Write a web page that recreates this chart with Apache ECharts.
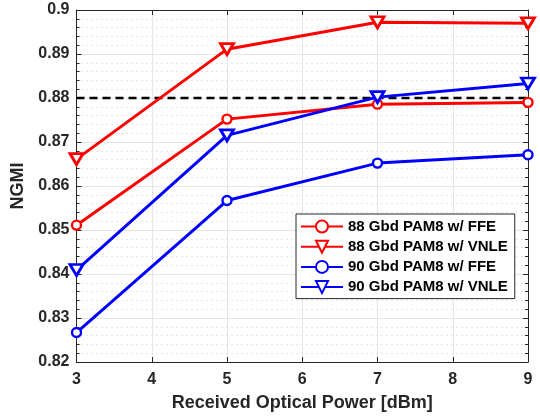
<!DOCTYPE html>
<html>
<head>
<meta charset="utf-8">
<script src="https://cdn.jsdelivr.net/npm/echarts@6/dist/echarts.min.js"></script>
<style>html,body{margin:0;padding:0;background:#fff}#c{width:540px;height:417px}</style>
</head>
<body>
<div id="c"></div>
<script>
var xValues = [3, 5, 7, 9];
var ffe88 = [0.8511, 0.8752, 0.8786, 0.8790];
var vnle88 = [0.8661, 0.8911, 0.8972, 0.8970];
var ffe90 = [0.8267, 0.8567, 0.8652, 0.8671];
var vnle90 = [0.8409, 0.8715, 0.8802, 0.8833];
var threshold = 0.88;
var seriesNames = ['88 Gbd PAM8 w/ FFE', '88 Gbd PAM8 w/ VNLE', '90 Gbd PAM8 w/ FFE', '90 Gbd PAM8 w/ VNLE'];

function pts(vals) { return xValues.map(function (x, i) { return [x, vals[i]]; }); }

var FONT = '"Liberation Sans", Arial, sans-serif';
var lblStyle = { fontFamily: FONT, fontWeight: 'bold', fontSize: 16, color: '#262626' };

function mk(name, vals, color, tri) {
  return {
    name: name, type: 'line', data: pts(vals), z: 3,
    symbol: tri ? 'triangle' : 'circle',
    symbolRotate: tri ? 180 : 0,
    symbolSize: tri ? [13, 11] : 9,
    lineStyle: { color: color, width: 3 },
    itemStyle: { color: '#fff', borderColor: color, borderWidth: tri ? 2.8 : 2.4 },
    emphasis: { disabled: true }
  };
}

var chart = echarts.init(document.getElementById('c'), null, { renderer: 'canvas' });
chart.setOption({
  animation: false,
  backgroundColor: '#fff',
  grid: { left: 76.5, right: 12, top: 10, bottom: 55 },
  legend: {
    orient: 'vertical', left: 296, top: 214,
    data: seriesNames,
    backgroundColor: '#fff', borderColor: '#262626', borderWidth: 1,
    padding: [5, 7, 4, 4],
    itemWidth: 42, itemHeight: 15, itemGap: 5.2,
    textStyle: { fontFamily: FONT, fontWeight: 'bold', fontSize: 15, color: '#000', lineHeight: 15 }
  },
  xAxis: [{
    type: 'value', min: 3, max: 9, interval: 1, position: 'bottom',
    name: 'Received Optical Power [dBm]', nameLocation: 'middle', nameGap: 32,
    nameTextStyle: { fontFamily: FONT, fontWeight: 'bold', fontSize: 18, color: '#262626' },
    axisLine: { show: true, lineStyle: { color: '#262626', width: 1 } },
    axisTick: { show: true, inside: true, length: 5, lineStyle: { color: '#262626' } },
    axisLabel: Object.assign({ margin: 10 }, lblStyle),
    splitLine: { show: true, lineStyle: { color: '#e6e6e6', width: 1 } }
  }, {
    type: 'value', min: 3, max: 9, interval: 1, position: 'top',
    axisLine: { show: true, lineStyle: { color: '#262626', width: 1 } },
    axisTick: { show: true, inside: true, length: 5, lineStyle: { color: '#262626' } },
    axisLabel: { show: false }, splitLine: { show: false }
  }],
  yAxis: [{
    type: 'value', min: 0.82, max: 0.9, interval: 0.01, position: 'left',
    name: 'NGMI', nameLocation: 'middle', nameGap: 43, nameRotate: 90,
    nameTextStyle: { fontFamily: FONT, fontWeight: 'bold', fontSize: 18, color: '#262626' },
    axisLine: { show: true, lineStyle: { color: '#262626', width: 1 } },
    axisTick: { show: true, inside: true, length: 5, lineStyle: { color: '#262626' } },
    minorTick: { show: true, splitNumber: 5, length: 3, lineStyle: { color: '#262626' } },
    axisLabel: Object.assign({ margin: 7, formatter: function (v) { return String(+v.toFixed(2)); } }, lblStyle),
    splitLine: { show: true, lineStyle: { color: '#e6e6e6', width: 1 } },
    minorSplitLine: { show: true, lineStyle: { color: '#cfcfcf', width: 1, type: [1, 4] } }
  }, {
    type: 'value', min: 0.82, max: 0.9, interval: 0.01, position: 'right',
    axisLine: { show: true, lineStyle: { color: '#262626', width: 1 } },
    axisTick: { show: true, inside: true, length: 5, lineStyle: { color: '#262626' } },
    minorTick: { show: true, splitNumber: 5, length: 3, lineStyle: { color: '#262626' } },
    axisLabel: { show: false }, splitLine: { show: false }
  }],
  series: [
    {
      name: 'threshold', type: 'line', data: [[xValues[0], threshold], [xValues[xValues.length - 1], threshold]],
      symbol: 'none', z: 2, lineStyle: { color: '#000', width: 2.6, type: [8, 5] }, emphasis: { disabled: true }
    },
    mk(seriesNames[0], ffe88, '#ff0000', false),
    mk(seriesNames[1], vnle88, '#ff0000', true),
    mk(seriesNames[2], ffe90, '#0000ff', false),
    mk(seriesNames[3], vnle90, '#0000ff', true)
  ]
});
</script>
</body>
</html>
